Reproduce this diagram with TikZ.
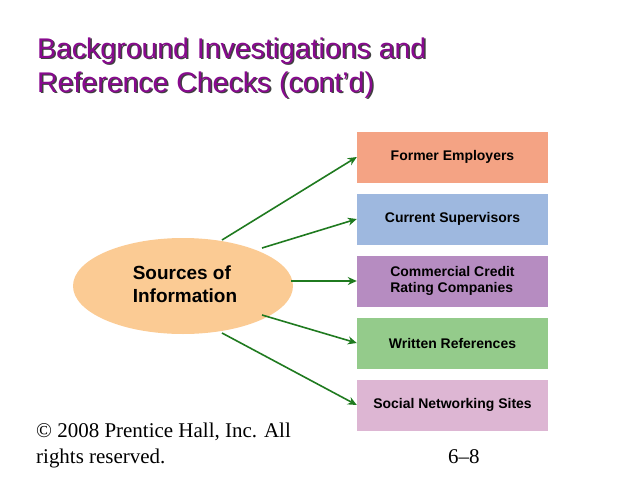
\documentclass[tikz,border=0pt]{standalone}
\usepackage{fontspec}
\setmainfont{Liberation Sans}
\newfontfamily\tnr{Liberation Serif}
\usetikzlibrary{shapes.geometric,arrows.meta}
\definecolor{ttl}{HTML}{880A8E}
\definecolor{arr}{HTML}{1F7A1F}
\definecolor{cA}{HTML}{F4A384}
\definecolor{cB}{HTML}{9EB8DF}
\definecolor{cC}{HTML}{B68CC1}
\definecolor{cD}{HTML}{94CB8B}
\definecolor{cE}{HTML}{DDB6D3}
\definecolor{ell}{HTML}{FBCB94}
\begin{document}
\begin{tikzpicture}[x=0.0352cm,y=-0.0352cm,
  box/.style={draw=none,minimum width=191*0.0352cm,minimum height=51*0.0352cm,font=\fontsize{14}{16.5}\selectfont\bfseries,align=left},
  con/.style={draw=arr,line width=1.6pt,-{Stealth[length=9pt,width=8pt]}},
  ttlstyle/.style={anchor=base west,font=\fontsize{28.5}{32}\selectfont,inner sep=0}]
\useasboundingbox (0,0) rectangle (638,479);
\foreach \d/\c in {1.5/black!75,0/ttl}{
 \node[ttlstyle,text=\c] (t1\d) at (37+\d,58+\d) {Background Investigations and};
 \node[ttlstyle,text=\c] (t2\d) at (37+\d,92+\d) {Reference Checks (cont’d)};}
\node[box,fill=cA] (b1) at (452.5,157) {Former Employers};
\node[box,fill=cB] (b2) at (452.5,219) {Current Supervisors};
\node[box,fill=cC] (b3) at (452.5,281) {Commercial Credit\\Rating Companies};
\node[box,fill=cD] (b4) at (452.5,343) {Written References};
\node[box,fill=cE] (b5) at (452.5,405) {Social Networking Sites};
\node[ellipse,fill=ell,minimum width=220*0.0352cm,minimum height=96*0.0352cm] (e) at (183,286) {};
\node[font=\fontsize{19}{23}\selectfont\bfseries,align=left] (et) at (185,284) {Sources of\\Information};
\coordinate (s1) at (222,240); \coordinate (s2) at (262,248); \coordinate (s3) at (291,281);
\coordinate (s4) at (262,315); \coordinate (s5) at (222,333);
\foreach \i in {1,...,5}{\draw[con] (s\i) -- (b\i.west);}
\node[anchor=base west,font=\tnr\fontsize{21}{24}\selectfont,inner sep=0] (f1) at (36,437) {© 2008 Prentice Hall, Inc. All};
\node[anchor=base west,font=\tnr\fontsize{21}{24}\selectfont,inner sep=0] (f2) at (36,463) {rights reserved.};
\node[anchor=base west,font=\tnr\fontsize{21}{24}\selectfont,inner sep=0] (f3) at (448,463) {6–8};
\end{tikzpicture}
\end{document}
